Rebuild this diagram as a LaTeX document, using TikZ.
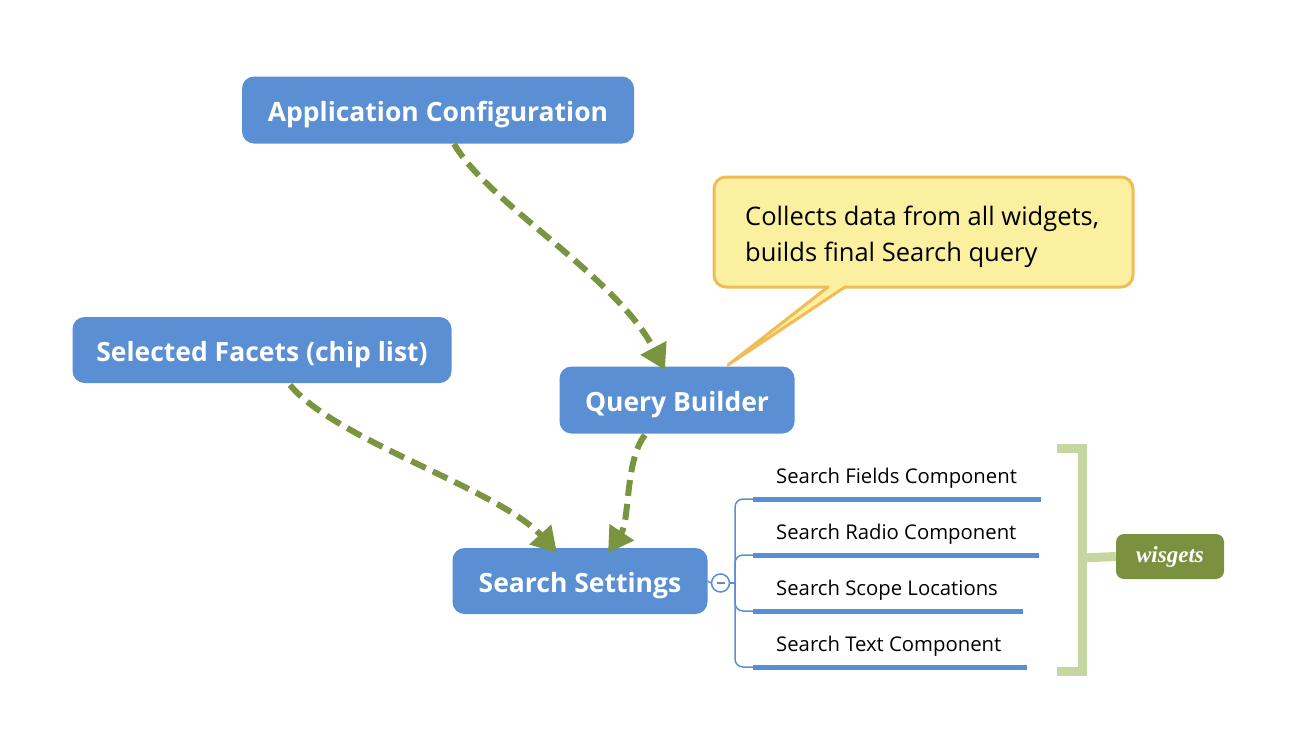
\documentclass[tikz,border=0pt]{standalone}
\usepackage{fontspec}
\setmainfont{Open Sans}
\newfontfamily\wisfont{Liberation Serif}
\usetikzlibrary{arrows.meta}
\definecolor{nodeblue}{RGB}{91,143,212}
\definecolor{arrowgreen}{RGB}{123,148,64}
\definecolor{noteyellow}{RGB}{250,240,160}
\definecolor{noteorange}{RGB}{239,188,88}
\definecolor{bracketgreen}{RGB}{197,214,160}
\definecolor{tagreen}{RGB}{122,146,64}
\tikzset{
  topic/.style={fill=nodeblue, rounded corners=12pt, text=white, font=\bfseries\fontsize{26.5}{30}\selectfont, inner sep=0pt, align=center, text height=22pt, text depth=0pt},
  flow/.style={draw=arrowgreen, line width=6pt, dash pattern=on 16pt off 8pt, -{Triangle[length=25pt,width=28pt]}},
  branch/.style={draw=nodeblue, line width=1.5pt},
  uline/.style={draw=nodeblue, line width=5pt},
  sublabel/.style={font=\fontsize{20.3}{24}\selectfont, anchor=base west, inner sep=0pt},
}
\begin{document}
\begin{tikzpicture}[x=1pt,y=-1pt]
\useasboundingbox (0,0) rectangle (1314,742);
% topics
\node[topic, minimum width=392pt, minimum height=67pt] (app) at (438,110) {Application Configuration};
\node[topic, minimum width=379pt, minimum height=66pt] (facets) at (262,350) {Selected Facets (chip list)};
\node[topic, minimum width=235pt, minimum height=67pt] (qb) at (677,400) {Query Builder};
\node[topic, minimum width=255pt, minimum height=66pt] (ss) at (580,581) {Search Settings};
% callout
\draw[fill=noteyellow, draw=noteorange, line width=3pt, line join=round]
  (726,177) -- (1121,177) arc(270:360:12) -- (1133,275) arc(0:90:12)
  -- (845,287) -- (728,365) -- (828,287) -- (726,287) arc(90:180:12)
  -- (714,189) arc(180:270:12) -- cycle;
\node[anchor=base west, inner sep=0pt, align=left, font=\fontsize{25.5}{36}\selectfont] (note) at (745,261) {Collects data from all widgets,\\builds final Search query};
% flows
\coordinate (a1) at (454,144);
\coordinate (a1e) at (665,370);
\coordinate (a2) at (290,385);
\coordinate (a2e) at (557,553);
\coordinate (a3) at (645,435);
\coordinate (a3e) at (608,553);
\draw[flow] (a1) .. controls (490,205) and (615,275) .. (a1e);
\draw[flow] (a2) .. controls (335,440) and (500,490) .. (a2e);
\draw[flow] (a3) .. controls (625,460) and (630,520) .. (a3e);
% branches
\node[circle, draw=nodeblue, line width=1.5pt, fill=white, minimum size=18pt, inner sep=0pt] (minus) at (720.5,583) {};
\draw[draw=nodeblue!70!gray, line width=2pt] ([xshift=-4pt]minus.center) -- ([xshift=4pt]minus.center);
\draw[branch] (ss.east) -- (minus.west);
\coordinate (hub) at (735,583);
\draw[branch] (minus.east) -- (hub);
\coordinate (b1) at (753,499);
\coordinate (b2) at (753,555);
\coordinate (b3) at (753,611);
\coordinate (b4) at (753,667);
\draw[branch, rounded corners=8pt] (hub) |- (b1);
\draw[branch, rounded corners=8pt] (hub) |- (b2);
\draw[branch, rounded corners=8pt] (hub) |- (b3);
\draw[branch, rounded corners=8pt] (hub) |- (b4);
\draw[uline] (b1) -- ++(288,0);
\draw[uline] (b2) -- ++(286,0);
\draw[uline] (b3) -- ++(270,0);
\draw[uline] (b4) -- ++(274,0);
\node[sublabel] (l1) at (776,483) {Search Fields Component};
\node[sublabel] (l2) at (776,539) {Search Radio Component};
\node[sublabel] (l3) at (776,595) {Search Scope Locations};
\node[sublabel] (l4) at (776,651) {Search Text Component};
% bracket
\draw[draw=bracketgreen, line width=9pt] (1057,448.5) -- (1082,448.5) -- (1082,671.5) -- (1057,671.5);
\node[fill=tagreen, rounded corners=8pt, minimum width=108pt, minimum height=45pt, inner sep=0pt, text=white, font=\wisfont\bfseries\itshape\fontsize{23}{26}\selectfont] (tag) at (1170,556.5) {wisgets};
\draw[draw=bracketgreen, line width=9pt] (1082,558) -- (tag.west);
\end{tikzpicture}
\end{document}
